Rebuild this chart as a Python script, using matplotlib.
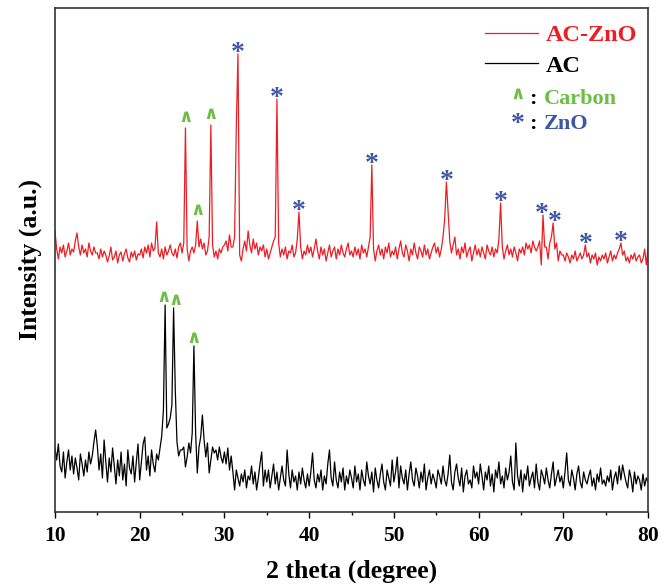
import numpy as np
import matplotlib
matplotlib.use('Agg')
import matplotlib.pyplot as plt

plt.rcParams['font.family'] = ['Liberation Serif', 'DejaVu Serif']
plt.rcParams['font.weight'] = 'bold'

# 2 theta grid, 0.2 degree steps
two_theta = np.round(np.arange(10.0, 80.01, 0.2), 1)

# AC-ZnO intensity (arb. units, above its own baseline)
ac_zno = np.array([
    36, 18, 8, 20, 14, 22, 10, 16, 24, 12, 18, 15, 26, 34, 20, 12, 22, 14, 18, 10, 24, 16, 12, 20, 14,
    14, 8, 18, 10, 16, 12, 5, 11, 20, 7, 10, 16, 4, 12, 15, 6, 13, 18, 9, 5, 15, 10, 16, 7, 13,
    12, 18, 9, 20, 14, 22, 10, 24, 16, 19, 45, 14, 10, 18, 8, 20, 12, 16, 22, 14, 11, 18, 9, 20, 24,
    14, 24, 139, 18, 6, 16, 20, 14, 22, 46, 20, 28, 18, 24, 12, 16, 30, 142, 22, 10, 16, 8, 18, 14, 20,
    22, 26, 16, 32, 20, 20, 30, 139, 213, 12, 6, 18, 26, 16, 36, 22, 14, 28, 18, 24, 12, 20, 16, 22, 10,
    18, 8, 14, 20, 26, 30, 168, 24, 10, 18, 12, 20, 8, 16, 14, 22, 10, 14, 28, 55, 20, 8, 16, 12, 22,
    14, 20, 10, 18, 28, 16, 8, 20, 12, 18, 6, 14, 22, 10, 16, 20, 8, 18, 12, 22, 14, 10, 18, 24, 12,
    16, 10, 20, 12, 18, 8, 22, 14, 18, 10, 20, 30, 102, 18, 6, 16, 22, 12, 18, 8, 20, 14, 24, 10, 16,
    12, 20, 8, 18, 26, 14, 10, 22, 16, 6, 18, 12, 24, 14, 8, 20, 16, 10, 22, 12, 18, 8, 14, 20, 24,
    14, 20, 10, 18, 30, 48, 85, 56, 26, 14, 22, 30, 12, 18, 8, 20, 14, 24, 10, 16, 20, 6, 14, 22, 12,
    18, 10, 20, 14, 8, 22, 16, 12, 20, 10, 18, 14, 28, 64, 20, 8, 16, 22, 12, 18, 10, 20, 14, 6, 18,
    14, 20, 12, 24, 18, 22, 14, 26, 20, 16, 20, 26, 2, 52, 20, 20, 8, 24, 30, 44, 18, 24, 6, 16, 12,
    12, 6, 14, 10, 4, 12, 8, 16, 6, 10, 14, 8, 12, 22, 10, 14, 4, 12, 8, 14, 2, 10, 6, 12, 8,
    14, 4, 10, 16, 6, 12, 8, 14, 18, 24, 12, 16, 6, 10, 4, 12, 8, 14, 6, 10, 12, 4, 8, 18, 2,
    20,
])

# AC intensity (arb. units)
ac = np.array([
    52, 40, 56, 34, 28, 48, 22, 38, 50, 30, 44, 26, 42, 32, 20, 46, 36, 24, 40, 28, 48, 36, 44, 58, 70,
    54, 30, 46, 22, 60, 38, 18, 42, 28, 52, 34, 16, 40, 24, 48, 20, 36, 14, 50, 32, 26, 44, 18, 38, 56,
    20, 38, 56, 63, 30, 44, 24, 50, 36, 28, 46, 40, 52, 64, 90, 195, 72, 76, 82, 95, 192, 110, 58, 44, 50,
    50, 53, 33, 43, 57, 47, 67, 154, 67, 27, 53, 63, 85, 60, 43, 57, 27, 40, 53, 47, 50, 40, 53, 43, 37,
    48, 36, 52, 30, 44, 28, 10, 30, 22, 14, 26, 18, 30, 12, 24, 20, 34, 16, 28, 10, 22, 36, 48, 14, 30,
    18, 30, 12, 24, 36, 16, 28, 10, 22, 34, 20, 14, 50, 26, 12, 30, 18, 24, 10, 28, 16, 32, 20, 12, 26,
    14, 28, 47, 20, 12, 26, 18, 30, 10, 24, 16, 36, 50, 22, 14, 38, 20, 12, 28, 18, 32, 10, 24, 16, 30,
    22, 12, 34, 18, 26, 10, 30, 20, 14, 38, 24, 16, 28, 8, 32, 20, 12, 26, 36, 18, 10, 30, 22, 14, 40,
    18, 28, 43, 12, 34, 22, 16, 30, 10, 26, 38, 20, 14, 32, 24, 12, 28, 18, 36, 10, 22, 30, 16, 26, 20,
    12, 30, 24, 16, 34, 20, 14, 26, 45, 18, 10, 28, 36, 22, 14, 32, 8, 24, 30, 16, 20, 12, 34, 22, 28,
    16, 36, 24, 10, 28, 20, 34, 14, 26, 8, 30, 22, 38, 16, 24, 12, 32, 20, 28, 44, 18, 10, 57, 24, 14,
    30, 8, 26, 20, 34, 14, 22, 28, 12, 36, 18, 10, 30, 24, 16, 32, 20, 12, 26, 38, 14, 22, 30, 18, 24,
    12, 28, 47, 20, 14, 30, 22, 10, 26, 34, 18, 12, 28, 20, 16, 24, 30, 14, 22, 10, 26, 18, 32, 16, 20,
    14, 24, 18, 30, 10, 22, 28, 16, 34, 20, 35, 26, 18, 12, 30, 22, 8, 28, 16, 24, 20, 10, 26, 14, 22,
    18,
])

zno_offset = 245
ac_offset = 12

# peak labels
zno_peaks = [31.6, 36.2, 38.8, 47.4, 56.2, 62.6, 67.5, 69.0, 72.6, 76.8]
carbon_peaks_zno = [25.4, 26.8, 28.4]
carbon_peaks_ac = [22.85, 24.2, 26.4]

red = '#EE1D24'
green = '#6CBE45'
blue = '#3D55A5'
caret = '\u2227'
caret_font = dict(family='DejaVu Sans', weight='bold', size=13)

fig = plt.figure(figsize=(6.68, 5.87), dpi=100)
ax = fig.add_axes([0.0823, 0.1278, 0.8878, 0.8586])

ax.plot(two_theta, ac_zno + zno_offset, color=red, lw=0.9, label='AC-ZnO')
ax.plot(two_theta, ac + ac_offset, color='black', lw=0.9, label='AC')


def peak_top(x, y, pos):
    # highest point within a small window round the label position
    near = np.abs(x - pos) <= 0.21
    return y[near].max()


for p in zno_peaks:
    ax.annotate('*', xy=(p, peak_top(two_theta, ac_zno + zno_offset, p)), xytext=(0, -4),
                textcoords='offset points', ha='center', va='baseline',
                color=blue, fontsize=20)
for p in carbon_peaks_zno:
    ax.annotate(caret, xy=(p, peak_top(two_theta, ac_zno + zno_offset, p)), xytext=(0, 4),
                textcoords='offset points', ha='center', va='baseline',
                color=green, fontproperties=caret_font)
for p in carbon_peaks_ac:
    ax.annotate(caret, xy=(p, peak_top(two_theta, ac + ac_offset, p)), xytext=(0, 2),
                textcoords='offset points', ha='center', va='baseline',
                color=green, fontproperties=caret_font)

ax.set_xlim(10, 80)
ax.set_ylim(0, 504)
ax.set_xticks(range(10, 81, 10))
ax.set_xticks(range(15, 80, 10), minor=True)
ax.set_yticks([])
ax.tick_params(axis='x', which='major', length=4, width=1, pad=6, labelsize=15.5)
ax.tick_params(axis='x', which='minor', length=2, width=1)
for s in ax.spines.values():
    s.set_color('#333333')
    s.set_linewidth(1.2)

ax.set_xlabel('2 theta (degree)', fontsize=18.5, fontweight='bold', labelpad=10)
ax.set_ylabel('Intensity (a.u.)', fontsize=18.5, fontweight='bold', labelpad=9)

leg = ax.legend(loc='upper left', bbox_to_anchor=(0.725, 0.968), frameon=False,
                fontsize=17.5, handlelength=2.2, handletextpad=0.3, labelspacing=0.35,
                borderpad=0, borderaxespad=0)
for t, c in zip(leg.get_texts(), [red, 'black']):
    t.set_color(c)

rows = [('^', 'Carbon', green, 0.810), ('*', 'ZnO', blue, 0.759)]
for sym, name, c, yy in rows:
    if sym == '^':
        ax.text(0.7808, yy + 0.010, caret, transform=ax.transAxes, ha='center', va='baseline',
                color=c, fontproperties=caret_font)
    else:
        ax.text(0.7808, yy - 0.004, sym, transform=ax.transAxes, ha='center', va='baseline',
                color=c, fontsize=20)
    ax.text(0.806, yy, ':', transform=ax.transAxes, ha='center', va='baseline',
            color='black', fontsize=16)
    ax.text(0.8246, yy, name, transform=ax.transAxes, ha='left', va='baseline',
            color=c, fontsize=16)

fig.savefig('out.png', dpi=100)
